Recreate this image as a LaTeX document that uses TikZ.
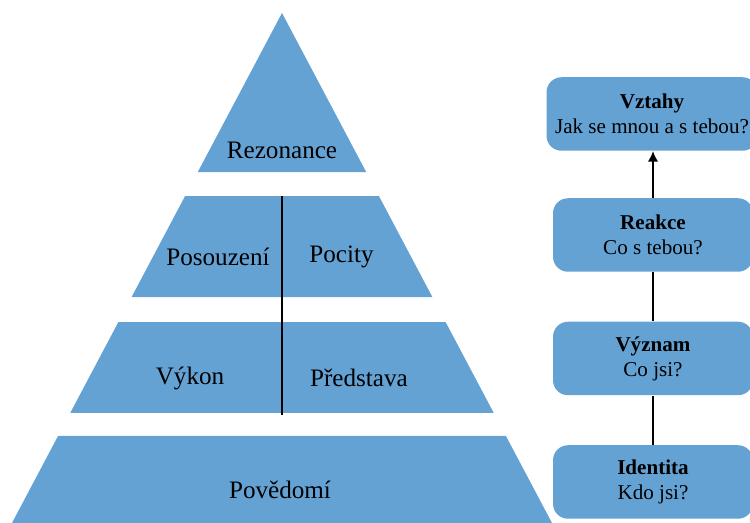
\documentclass[tikz,border=0pt]{standalone}
\usepackage{fontspec}
\setmainfont{Liberation Serif}
\usetikzlibrary{arrows.meta}
\usetikzlibrary{positioning, calc}

\definecolor{pyrblue}{RGB}{101,162,212}

\begin{document}
\begin{tikzpicture}[
    layer/.style={fill=pyrblue},
    lbl/.style={font=\fontsize{14.3}{17}\selectfont},
    box/.style={fill=pyrblue, rounded corners=0.3cm, minimum width=4cm, minimum height=1.47cm, align=center, inner sep=2pt, font=\fontsize{12}{14.2}\selectfont},
    link/.style={line width=1.1pt},
    divider/.style={line width=1.2pt}
]
    \clip (0, 0) rectangle (15, 10.46);

    \coordinate (top) at (5.64, 10.2);
    \coordinate (bl) at (0.24, 0);
    \coordinate (br) at (11.04, 0);

    % Pyramid layers:
    \foreach \t/\b [count=\i] in {0/.312, .359/.557, .606/.784, .829/1} {
        \fill[layer] ($(top)!\t!(bl)$) coordinate (l\i-nw) -- ($(top)!\b!(bl)$) coordinate (l\i-sw) -- ($(top)!\b!(br)$) coordinate (l\i-se) -- ($(top)!\t!(br)$) coordinate (l\i-ne) -- cycle;
    }

    \draw[divider] ($(l2-nw)!.5!(l2-ne)$) coordinate (div-top) -- ($(l3-sw)!.5!(l3-se) - (0, .04)$) coordinate (div-bot);

    \node[lbl] (rez) at ($(l1-sw)!.5!(l1-se) + (0, .44)$) {Rezonance};
    \node[lbl] (pos) at (4.36, 5.32) {Posouzení};
    \node[lbl] (poc) at (6.83, 5.32) {Pocity};
    \node[lbl] (vyk) at (3.80, 2.90) {Výkon};
    \node[lbl] (pred) at (7.18, 2.90) {Představa};
    \node[lbl] (pov) at (5.60, 0.66) {Povědomí};

    % Side boxes:
    \draw node[box, minimum width=4.22cm] (vztahy) at (13.04, 8.18) {\textbf{Vztahy}\\Jak se mnou a s tebou?};
    \draw (vztahy) ++(0.02, -2.42) node[box] (reakce) {\textbf{Reakce}\\Co s tebou?};
    \draw (reakce) ++(0, -2.47) node[box] (vyznam) {\textbf{Význam}\\Co jsi?};
    \draw (vyznam) ++(0, -2.47) node[box] (identita) {\textbf{Identita}\\Kdo jsi?};

    \draw[link] (identita) -- (vyznam);
    \draw[link] (vyznam) -- (reakce);
    \draw[link, -{Latex[length=6pt, width=6pt]}] (reakce.north) -- (reakce.north |- vztahy.south);

\end{tikzpicture}
\end{document}
